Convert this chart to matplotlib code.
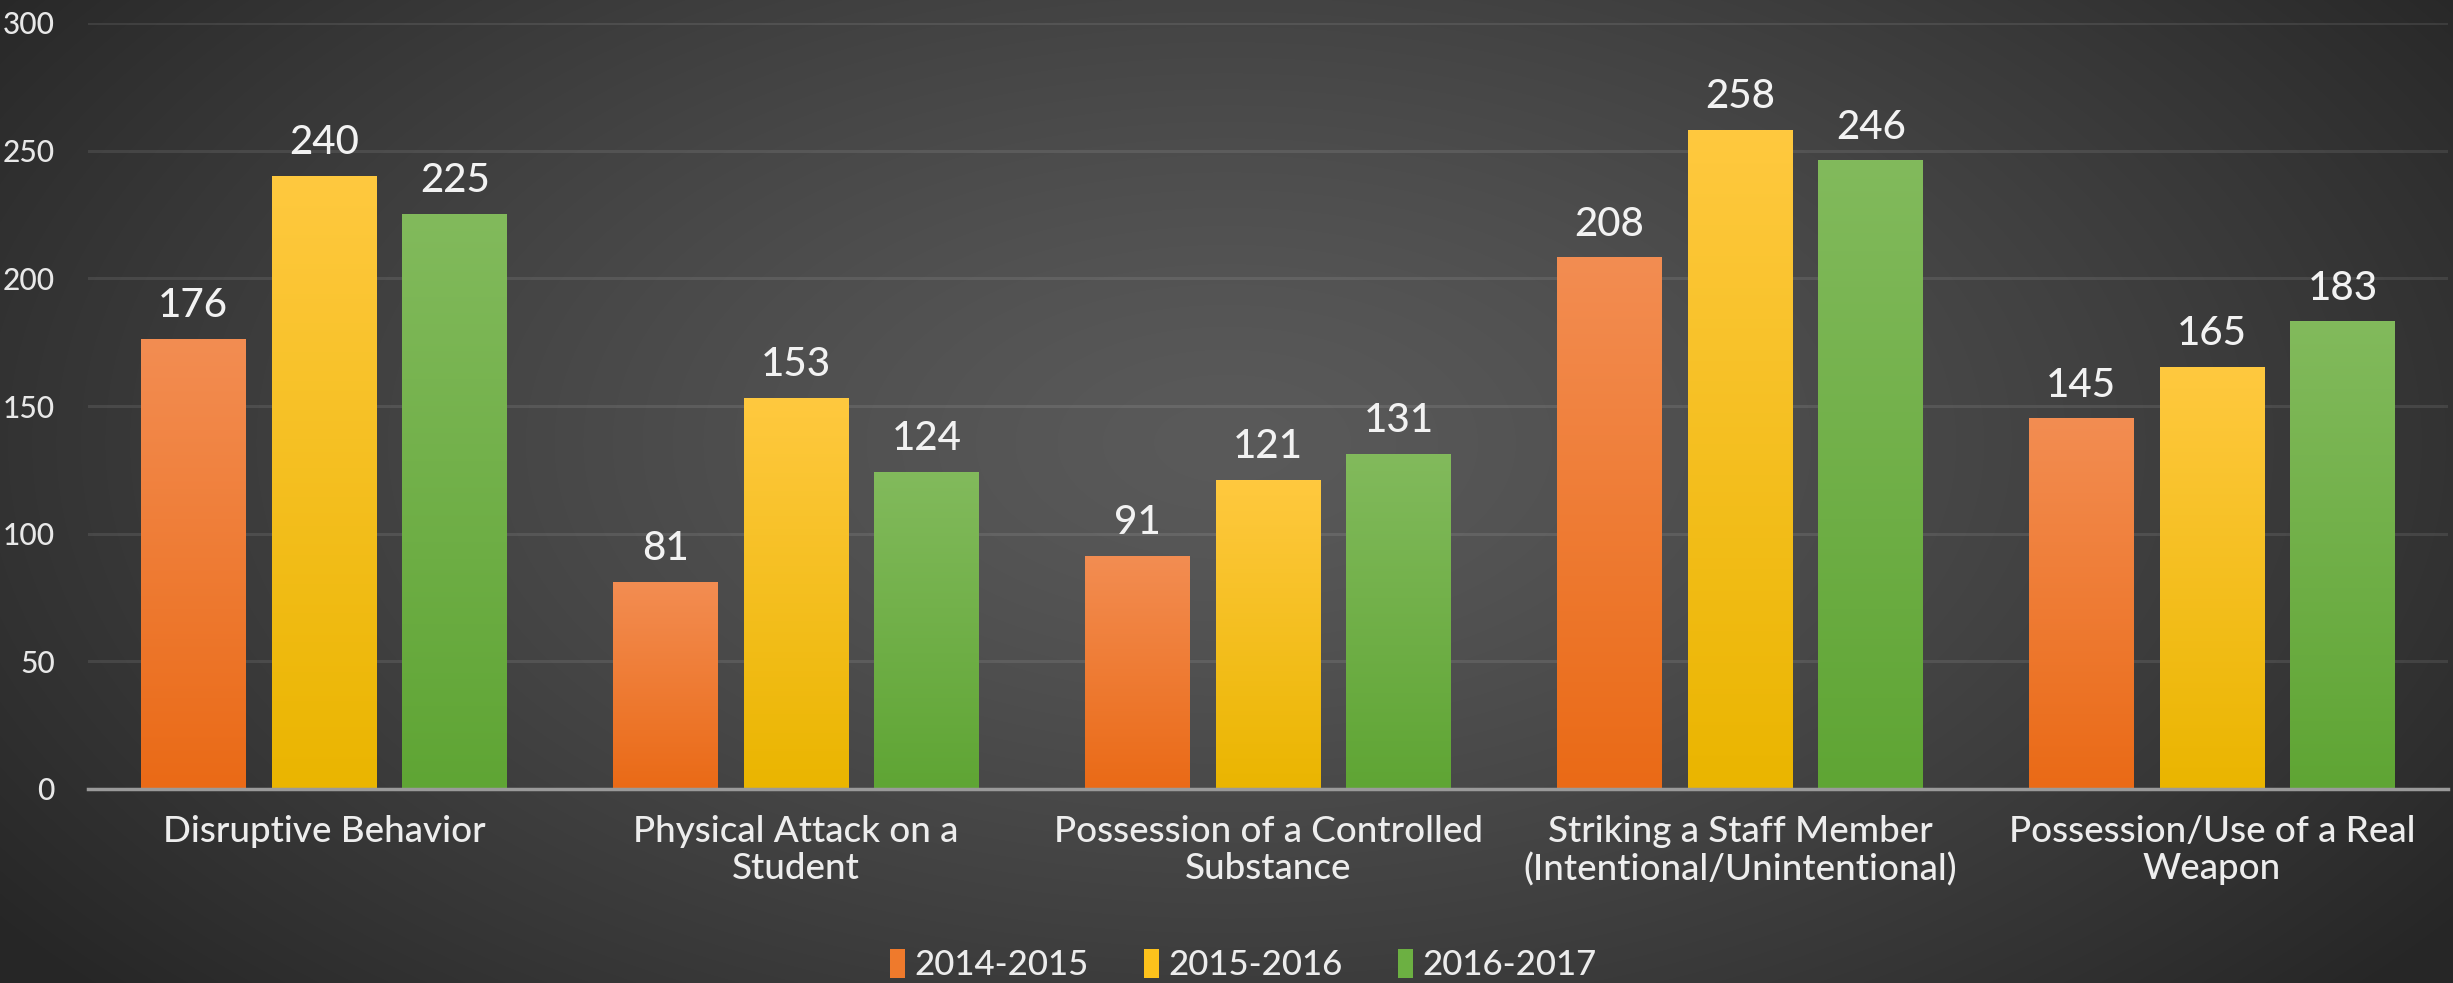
import numpy as np
import matplotlib
matplotlib.use("Agg")
import matplotlib.pyplot as plt
from matplotlib.colors import LinearSegmentedColormap
from matplotlib.patches import Patch

plt.rcParams['font.family'] = ['Lato', 'DejaVu Sans']

categories = [
    "Disruptive Behavior",
    "Physical Attack on a\nStudent",
    "Possession of a Controlled\nSubstance",
    "Striking a Staff Member\n(Intentional/Unintentional)",
    "Possession/Use of a Real\nWeapon",
]
series_names = ["2014-2015", "2015-2016", "2016-2017"]
values_2014 = [176, 81, 91, 208, 145]
values_2015 = [240, 153, 121, 258, 165]
values_2016 = [225, 124, 131, 246, 183]
y_ticks = [0, 50, 100, 150, 200, 250, 300]

series_values = [values_2014, values_2015, values_2016]
# (top colour, bottom colour) of each series' vertical gradient
series_colors = [("#f38d52", "#ea6a16"),
                 ("#ffc93f", "#eab500"),
                 ("#82ba5c", "#5fa534")]
legend_colors = ["#ef7a2c", "#fdc21c", "#6cb042"]

W, H, DPI = 2453, 983, 100
fig = plt.figure(figsize=(W / DPI, H / DPI), dpi=DPI)

# Radial background: lighter in the middle, dark towards the corners
bg_ax = fig.add_axes([0, 0, 1, 1], zorder=-10)
bg_ax.set_axis_off()
yy, xx = np.mgrid[0:H, 0:W]
cx, cy = 0.50 * W, 0.45 * H
r = np.sqrt(((xx - cx) / (0.62 * W)) ** 2 + ((yy - cy) / (0.85 * H)) ** 2)
r = np.clip(r, 0, 1)
light, dark = 0x5a / 255, 0x26 / 255
shade = light + (dark - light) * r ** 1.3
bg_ax.imshow(np.dstack([shade] * 3), extent=[0, 1, 0, 1], aspect='auto',
             origin='upper', interpolation='bilinear')
bg_ax.set_xlim(0, 1)
bg_ax.set_ylim(0, 1)

left, right = 88 / W, 2448 / W
bottom, top = (H - 789) / H, (H - 23) / H
ax = fig.add_axes([left, bottom, right - left, top - bottom])
ax.patch.set_alpha(0)

x = np.arange(len(categories))
offset = 0.277
width = 0.222

grad = np.linspace(0, 1, 256).reshape(-1, 1)
for i, (vals, (c_top, c_bot)) in enumerate(zip(series_values, series_colors)):
    cmap = LinearSegmentedColormap.from_list(f"s{i}", [c_bot, c_top])
    bars = ax.bar(x + (i - 1) * offset, vals, width, color=c_bot,
                  zorder=3, linewidth=0)
    for b, v in zip(bars, vals):
        bx, bw, bh = b.get_x(), b.get_width(), b.get_height()
        b.set_alpha(0)
        ax.imshow(grad, cmap=cmap, origin='lower', aspect='auto',
                  extent=[bx, bx + bw, 0, bh], zorder=3,
                  interpolation='bilinear')
        ax.annotate(f"{v}", (bx + bw / 2, bh), xytext=(0, 16),
                    textcoords='offset points', ha='center', va='baseline',
                    fontsize=29, color='#f2f2f2', fontweight='medium',
                    zorder=5)

ax.set_xlim(-0.5, 4.5)
ax.set_ylim(0, 300)
ax.set_yticks(y_ticks)
ax.set_xticks(x)
ax.set_xticklabels(categories, fontsize=26.5, color='#ededed',
                   linespacing=1.15, fontweight='medium')
ax.tick_params(axis='x', length=0, pad=19)
ax.tick_params(axis='y', length=0, pad=24, labelsize=21.5, labelcolor='#e8e8e8')
for lbl in ax.get_yticklabels():
    lbl.set_fontweight('medium')
ax.yaxis.grid(True, color='white', alpha=0.09, linewidth=2.2, zorder=1)
ax.set_axisbelow(True)
for s in ['top', 'right', 'left']:
    ax.spines[s].set_visible(False)
ax.spines['bottom'].set_color('#9a9a9a')
ax.spines['bottom'].set_linewidth(2.5)
ax.spines['bottom'].set_zorder(4)

handles = [Patch(facecolor=c, edgecolor='none') for c in legend_colors]
leg = fig.legend(handles, series_names, loc='center',
                 bbox_to_anchor=(1243 / W, 1 - 965 / H),
                 ncol=3, frameon=False, fontsize=25, labelcolor='#ececec',
                 handlelength=0.45, handleheight=0.9, handletextpad=0.25,
                 columnspacing=1.6)
for t in leg.get_texts():
    t.set_fontweight('medium')

fig.savefig("out.png", dpi=DPI)
